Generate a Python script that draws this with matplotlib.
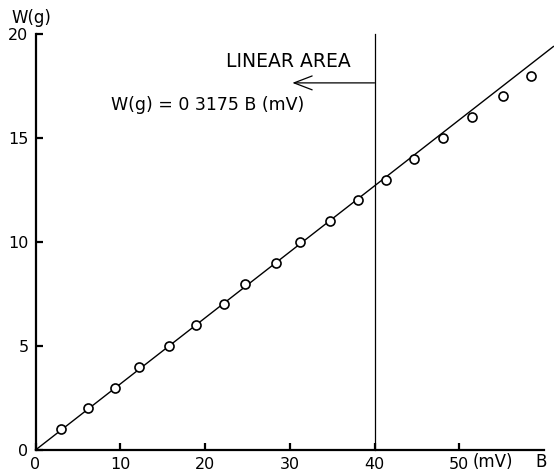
import matplotlib
matplotlib.use("Agg")
import matplotlib.pyplot as plt
from matplotlib.transforms import blended_transform_factory

# Data
B_mv = [3.0, 6.2, 9.4, 12.25, 15.7, 18.9, 22.2, 24.7, 28.4, 31.2,
        34.8, 38.0, 41.3, 44.6, 48.1, 51.5, 55.1, 58.4]
W_g = [1, 2, 3, 4, 5, 6, 7, 8, 9, 10, 11, 12, 13, 14, 15, 16, 17, 18]
slope = 0.3175
fit_x = [0, 61.1]
linear_limit = 40
x_ticks = [0, 10, 20, 30, 40, 50]
x_tick_labels = ["0", "10", "20", "30", "40", "50"]
y_ticks = [0, 5, 10, 15, 20]
y_tick_labels = ["0", "5", "10", "15", "20"]

plt.rcParams['font.family'] = ['DejaVu Sans']

fig = plt.figure(figsize=(5.54, 4.75), dpi=100)
ax = fig.add_axes([0.0641, 0.0526, 0.918, 0.8758])

ax.set_xlim(0, 60)
ax.set_ylim(0, 20)
for s in ['top', 'right']:
    ax.spines[s].set_visible(False)
for s in ['left', 'bottom']:
    ax.spines[s].set_linewidth(1.6)
    ax.spines[s].set_color('black')

ax.set_xticks(x_ticks)
ax.set_xticklabels(x_tick_labels)
ax.set_yticks(y_ticks)
ax.set_yticklabels(y_tick_labels)
ax.tick_params(direction='in', length=5, width=1.6, labelsize=11.5, pad=5)

# fitted line
ax.plot(fit_x, [slope * v for v in fit_x], color='black', lw=1.0, clip_on=False, zorder=2)
# data points
ax.plot(B_mv, W_g, linestyle='none', marker='o', markersize=6.5,
        markerfacecolor='white', markeredgecolor='black', markeredgewidth=1.2,
        clip_on=False, zorder=3)

# linear area boundary
ax.plot([linear_limit, linear_limit], [0, 20], color='black', lw=0.9, clip_on=False)
ax.annotate("", xy=(30.3, 17.65), xytext=(linear_limit, 17.65),
            arrowprops=dict(arrowstyle="->,head_length=0.65,head_width=0.25",
                            color='black', lw=0.9, mutation_scale=20,
                            shrinkA=0, shrinkB=0))
ax.text(29.8, 18.7, "LINEAR AREA", ha='center', va='center', fontsize=13.5)
ax.text(20.3, 16.6, "W(g) = 0 3175 B (mV)", ha='center', va='center', fontsize=12.5)

# axis labels
fig.text(31 / 554, 1 - 18 / 475, "W(g)", ha='center', va='center', fontsize=12)
tr = blended_transform_factory(ax.transData, fig.transFigure)
ax.text(54.0, 1 - 462 / 475, "(mV)", transform=tr, ha='center', va='center', fontsize=12)
ax.text(59.7, 1 - 462 / 475, "B", transform=tr, ha='center', va='center', fontsize=12)

fig.savefig("out.png", dpi=100)
